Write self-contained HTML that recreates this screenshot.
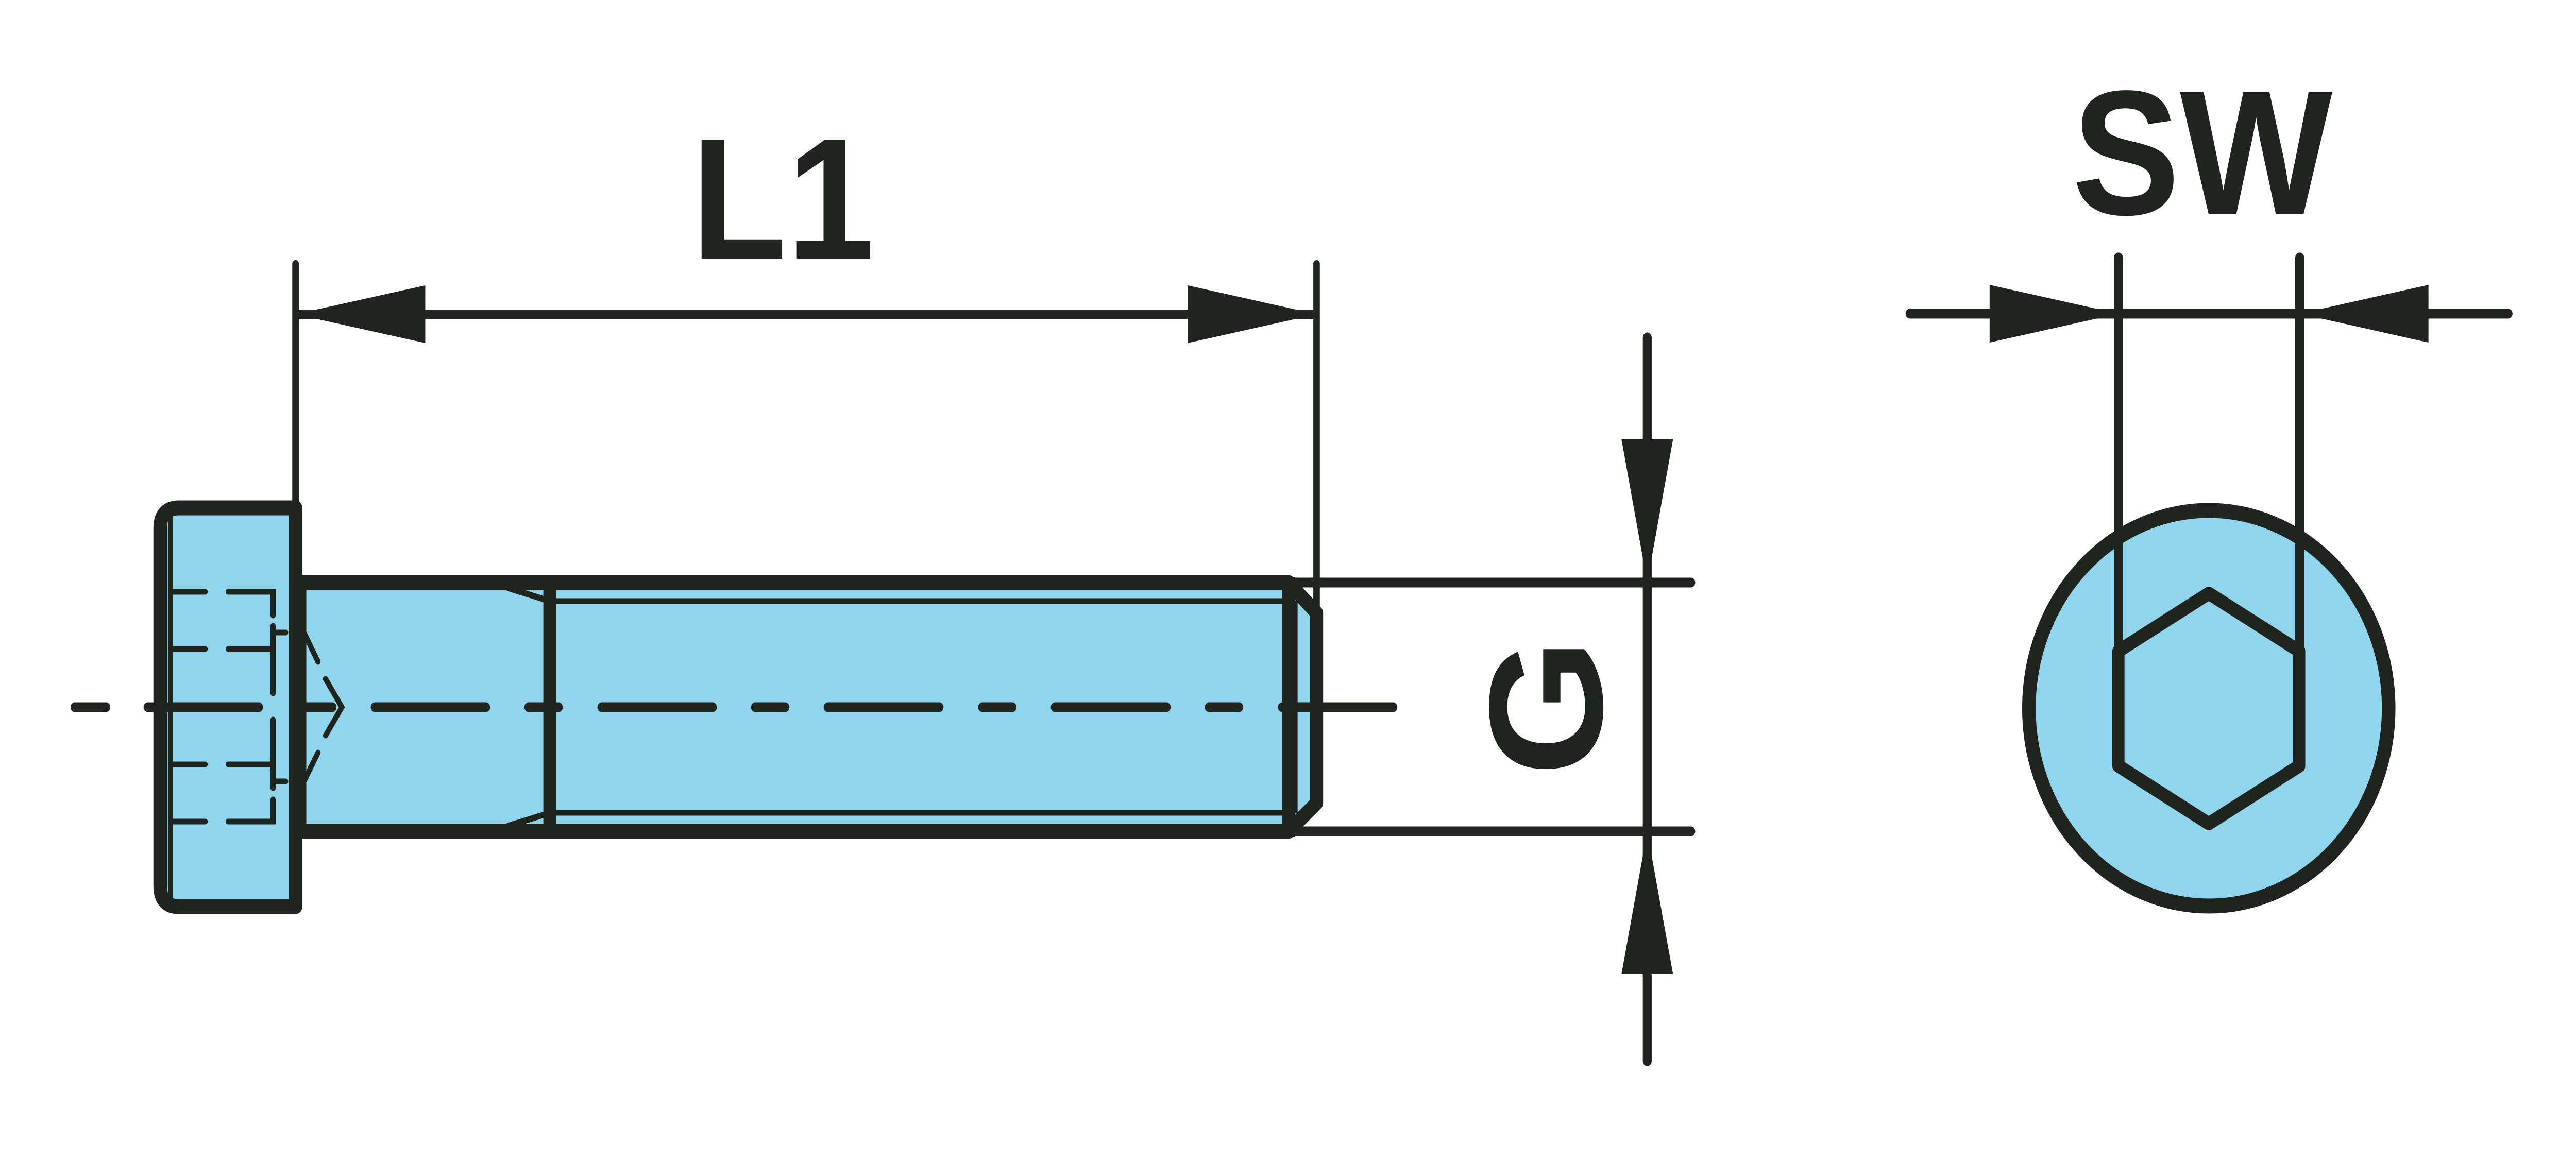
<!DOCTYPE html>
<html><head><meta charset="utf-8">
<style>
html,body{margin:0;padding:0;background:#fff;width:100%;height:100%;overflow:hidden}
svg{display:block;position:fixed;left:0;top:0;width:100vw;height:100vh}
text{font-family:"Liberation Sans",sans-serif;font-weight:bold;fill:#20241f}
</style></head><body>
<svg viewBox="0 0 5500 2254" preserveAspectRatio="none" xmlns="http://www.w3.org/2000/svg">
<g stroke="#20241f" fill="none">
<rect x="342" y="986" width="289" height="774" rx="30" fill="#91d5ed" stroke="none"/>
<path d="M631 1131 H2751 L2811 1190 V1559 L2751 1614 H631 Z" fill="#91d5ed" stroke="none"/>
<path d="M631 1131 V986 H382 Q342 986 342 1026 V1720 Q342 1760 382 1760 H631 V1614" stroke-width="29" stroke-linejoin="round" stroke-linecap="round"/>
<line x1="631" y1="986" x2="631" y2="1760" stroke-width="29"/>
<line x1="364" y1="1000" x2="364" y2="1746" stroke-width="11"/>
<line x1="631" y1="1131" x2="2751" y2="1131" stroke-width="29" stroke-linecap="round"/>
<line x1="631" y1="1614" x2="2751" y2="1614" stroke-width="29" stroke-linecap="round"/>
<line x1="1174" y1="1120" x2="1174" y2="1625" stroke-width="28"/>
<line x1="2751" y1="1120" x2="2751" y2="1625" stroke-width="28"/>
<path d="M2751 1131 L2811 1190 V1559 L2751 1614" stroke-width="28" stroke-linejoin="round"/>
<line x1="1174" y1="1167" x2="2751" y2="1167" stroke-width="11"/>
<line x1="1174" y1="1578" x2="2751" y2="1578" stroke-width="11"/>
<line x1="1083" y1="1141" x2="1174" y2="1167" stroke-width="12"/>
<line x1="1083" y1="1604" x2="1174" y2="1578" stroke-width="12"/>
<line x1="2765" y1="1167" x2="2765" y2="1578" stroke-width="11"/>
<line x1="649" y1="1140" x2="649" y2="1605" stroke-width="10"/>
<g stroke-width="11" stroke-linecap="round">
<path d="M364 1149 H438 M487 1149 H583 V1195 M583 1215 V1346 M583 1397 V1530 M583 1552 V1595 H487 M438 1595 H364"/>
<path d="M364 1260 H438 M487 1260 H583 M364 1484 H438 M487 1484 H583"/>
<path d="M583 1228 H610 M583 1517 H610"/>
<path d="M649 1228 L679 1285 M695 1318 L730 1373 L695 1428 M679 1461 L649 1517"/>
</g>
<g stroke-width="19" stroke-linecap="round">
<path d="M160 1373 H226 M316 1373 H552 M645 1373 H709 M801 1373 H1037 M1129 1373 H1192 M1285 1373 H1521 M1613 1373 H1676 M1768 1373 H2005 M2098 1373 H2161 M2253 1373 H2490 M2582 1373 H2645 M2738 1373 H2974"/>
</g>
<g stroke-width="14" stroke-linecap="round">
<line x1="631" y1="512" x2="631" y2="975"/>
<line x1="2811" y1="512" x2="2811" y2="1180"/>
</g>
<line x1="631" y1="610" x2="2811" y2="610" stroke-width="18"/>
<line x1="3517" y1="655" x2="3517" y2="2060" stroke-width="19" stroke-linecap="round"/>
<line x1="2765" y1="1131" x2="3610" y2="1131" stroke-width="19" stroke-linecap="round"/>
<line x1="2765" y1="1614" x2="3610" y2="1614" stroke-width="19" stroke-linecap="round"/>
<circle cx="4716" cy="1375" r="384" fill="#91d5ed" stroke-width="29"/>
<polygon points="4716,1152 4909,1264 4909,1487 4716,1599 4523,1487 4523,1264" stroke-width="26" stroke-linejoin="round"/>
<g stroke-width="19" stroke-linecap="round">
<line x1="4523" y1="500" x2="4523" y2="1264"/>
<line x1="4910" y1="500" x2="4910" y2="1264"/>
<line x1="4078" y1="609" x2="5355" y2="609"/>
</g>
</g>
<g fill="#20241f">
<polygon points="631,610 908,554 908,666"/>
<polygon points="2811,610 2536,554 2536,666"/>
<polygon points="3517,1131 3462,853 3572,853"/>
<polygon points="3517,1614 3462,1891 3572,1891"/>
<polygon points="4523,609 4248,553 4248,665"/>
<polygon points="4910,609 5185,553 5185,665"/>
</g>
<text x="1671" y="502" font-size="335" text-anchor="middle">L1</text>
<text x="4702" y="416" font-size="345" text-anchor="middle">SW</text>
<text transform="translate(3420,1373) rotate(-90)" font-size="345" text-anchor="middle">G</text>
</svg>
</body></html>
